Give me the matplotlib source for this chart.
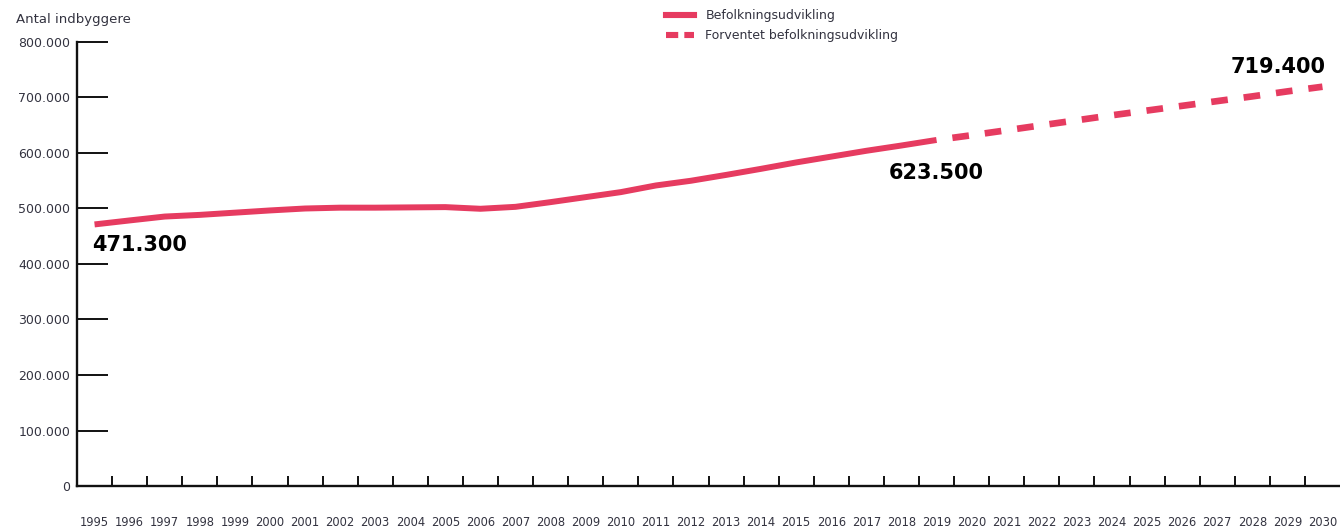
import matplotlib
matplotlib.use("Agg")
import matplotlib.pyplot as plt
from matplotlib.lines import Line2D
import numpy as np

# Data
years_hist = [1995, 1996, 1997, 1998, 1999, 2000, 2001, 2002, 2003, 2004, 2005, 2006,
              2007, 2008, 2009, 2010, 2011, 2012, 2013, 2014, 2015, 2016, 2017, 2018, 2019]
pop_hist = [471300, 478500, 485500, 488500, 492500, 496500, 500000, 501500, 501500, 502000,
            502500, 499500, 503000, 511500, 520500, 529500, 541500, 550000, 560500, 571500,
            583000, 593500, 604000, 613500, 623500]
years_proj = [2019, 2020, 2021, 2022, 2023, 2024, 2025, 2026, 2027, 2028, 2029, 2030]
pop_proj = [623500, 632000, 641000, 650000, 659000, 668000, 676500, 685000, 693500, 702000,
            711000, 719400]
year_labels = [str(y) for y in range(1995, 2031)]
y_ticks = [0, 100000, 200000, 300000, 400000, 500000, 600000, 700000, 800000]
y_tick_labels = ["0", "100.000", "200.000", "300.000", "400.000", "500.000", "600.000",
                 "700.000", "800.000"]
annotations = [(1995, 471300, "471.300"), (2019, 623500, "623.500"), (2030, 719400, "719.400")]
legend_labels = ["Befolkningsudvikling", "Forventet befolkningsudvikling"]
y_title = "Antal indbyggere"

RED = "#E63B60"
TXT = "#333340"

fig = plt.figure(figsize=(13.4, 5.28), dpi=100)
ax = fig.add_axes([77 / 1340, 42 / 528, 1 - 77 / 1340, (486 - 42) / 528])

ax.plot(years_hist, pop_hist, color=RED, lw=4.3, solid_capstyle="butt", zorder=3)
ax.plot(years_proj, pop_proj, color=RED, lw=4.8, linestyle=(2.5, (2.5, 2.4)),
        dash_capstyle="butt", zorder=3)

ax.set_xlim(1994.5, 2030.5)
ax.set_ylim(0, 800000)

for s in ["top", "right"]:
    ax.spines[s].set_visible(False)
for s in ["left", "bottom"]:
    ax.spines[s].set_linewidth(1.7)
    ax.spines[s].set_color("#111111")

# y ticks
ax.set_yticks(y_ticks)
ax.set_yticklabels(y_tick_labels)
ax.tick_params(axis="y", direction="in", length=22, width=1.4, color="#111111",
               labelsize=9, labelcolor=TXT, pad=5)

# x ticks: major at boundaries (no labels), minor at centers with labels
ax.set_xticks(np.arange(1995.5, 2030, 1.0))
ax.set_xticklabels([])
ax.tick_params(axis="x", which="major", direction="in", length=7.5, width=1.4, color="#111111")
ax.set_xticks(np.arange(1995, 2031, 1), minor=True)
ax.set_xticklabels(year_labels, minor=True)
ax.tick_params(axis="x", which="minor", length=0, labelsize=8.3, labelcolor=TXT, pad=21.5)

# Annotations
offsets = {1995: (-2, -15), 2019: (0, -24), 2030: (-32, 14)}
for x, y, s in annotations:
    dx, dy = offsets[x]
    ha = "left" if x == 1995 else "center"
    ax.annotate(s, (x, y), xytext=(dx, dy), textcoords="offset points", ha=ha, va="center",
                fontsize=15, fontweight="heavy", color="black", zorder=4)

# Y title
fig.text(16 / 1340, 1 - 20 / 528, y_title, fontsize=9.5, color=TXT, ha="left", va="center")

# Legend
handles = [Line2D([0], [0], color=RED, lw=4.4),
           Line2D([0], [0], color=RED, lw=4.4, linestyle=(0, (2.0, 1.0)), dash_capstyle="butt")]
leg = fig.legend(handles, legend_labels, loc="upper left", bbox_to_anchor=(661 / 1340, 1 - 4 / 528),
                 frameon=False, fontsize=9, handlelength=2.25, handletextpad=0.9,
                 labelspacing=0.6, borderaxespad=0)
for t in leg.get_texts():
    t.set_color(TXT)

fig.savefig("out.png", dpi=100)
